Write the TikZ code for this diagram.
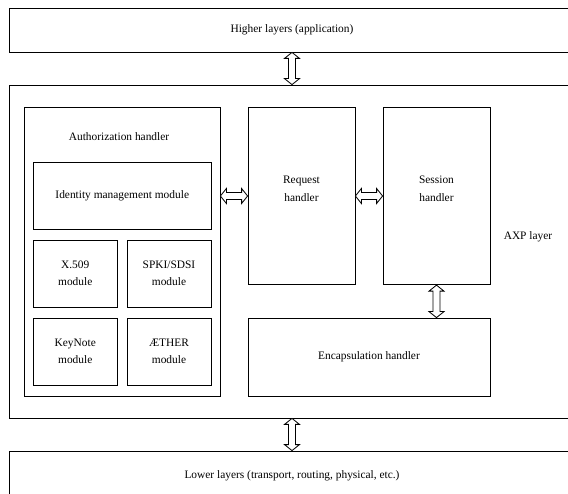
\documentclass[tikz,border=0pt]{standalone}
\usepackage{fontspec}
\setmainfont{Liberation Serif}
\usetikzlibrary{calc,positioning}

\tikzset{
  blk/.style={draw, line width=0.8pt, align=center, font=\fontsize{11.4}{17.5}\selectfont},
  lbl/.style={align=center, font=\fontsize{11.4}{17.5}\selectfont},
  vbi/.style={draw, line width=0.8pt, fill=white,
    to path={-- ++(7.5,6) -- ++(-4,0) -- ($(\tikztotarget)+(3.5,-6)$) -- ++(4,0) -- (\tikztotarget)
      -- ++(-7.5,-6) -- ++(4,0) -- ($(\tikztostart)+(-3.5,6)$) -- ++(-4,0) -- cycle}},
  hbi/.style={draw, line width=0.8pt, fill=white,
    to path={-- ++(6,-7.5) -- ++(0,4) -- ($(\tikztotarget)+(-6,-3.5)$) -- ++(0,-4) -- (\tikztotarget)
      -- ++(-6,7.5) -- ++(0,-4) -- ($(\tikztostart)+(6,3.5)$) -- ++(0,4) -- cycle}}
}

\begin{document}
\begin{tikzpicture}[x=1pt, y=-1pt]
        \useasboundingbox (0,0) rectangle (568,494);
        \clip (0,0) rectangle (568,494);

        % layers
        \node[blk, minimum width=566pt, minimum height=44pt] (hl) at (292,30) {Higher layers (application)};
        \node[blk, minimum width=566pt, minimum height=333pt] (axp) at (292,251.5) {};
        \node[lbl] (axpl) at (528,237) {AXP layer};
        \node[blk, minimum width=566pt, minimum height=50pt] (ll) at (292,476) {Lower layers (transport, routing, physical, etc.)};

        % authorization handler and its modules
        \node[blk, minimum width=196pt, minimum height=289pt] (auth) at (122,251.5) {};
        \node[lbl] (authl) at (119,137) {Authorization handler};
        \node[blk, minimum width=177.5pt, minimum height=66.5pt] (idm) at (122.25,196) {Identity management module};
        \node[blk, minimum width=83.5pt, minimum height=67pt] (x509) at (75.25,273.5) {X.509\\module};
        \node[blk, minimum width=84pt, minimum height=67pt] (spki) at (169,273.5) {SPKI/SDSI\\module};
        \node[blk, minimum width=83.5pt, minimum height=67pt] (keyn) at (75.25,351.5) {KeyNote\\module};
        \node[blk, minimum width=84pt, minimum height=67pt] (aeth) at (169,351.5) {\AE THER\\module};

        % handlers
        \node[blk, minimum width=107pt, minimum height=177.5pt,
              label={[lbl, yshift=7pt]center:Request\\handler}] (req) at (301.5,196) {};
        \node[blk, minimum width=107pt, minimum height=177.5pt,
              label={[lbl, yshift=7pt]center:Session\\handler}] (ses) at (436.5,196) {};
        \node[blk, minimum width=242pt, minimum height=78pt] (enc) at (369,357) {Encapsulation handler};

        % double arrows
        \draw[vbi] (hl.south) to (axp.north);
        \draw[hbi] (auth.east |- req.west) to (req.west);
        \draw[hbi] (req.east) to (ses.west);
        \draw[vbi] (ses.south) to (ses.south |- enc.north);
        \draw[vbi] (axp.south) to (ll.north);

    \end{tikzpicture}
\end{document}
